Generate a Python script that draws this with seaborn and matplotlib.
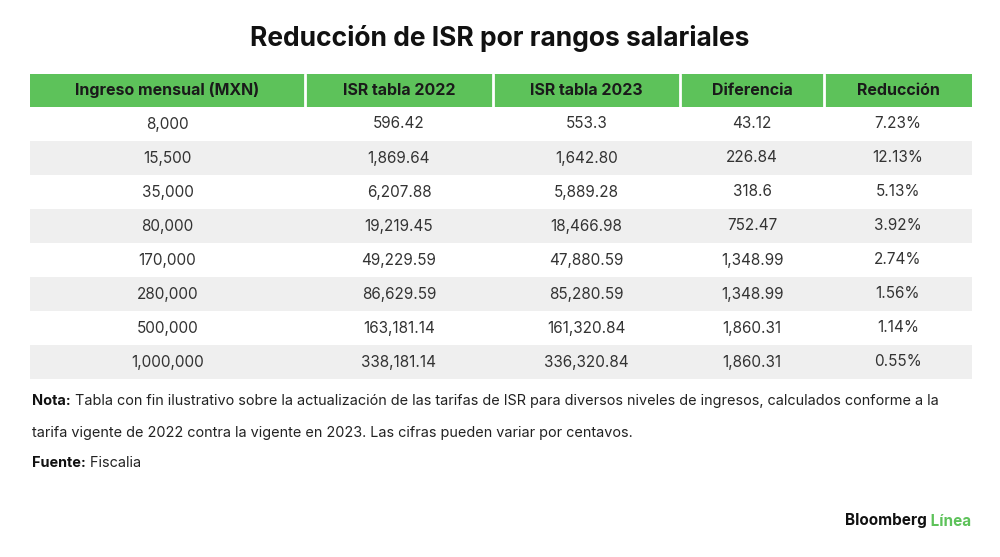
import matplotlib
matplotlib.use("Agg")
import matplotlib.pyplot as plt
import seaborn as sns
from matplotlib.patches import Rectangle

sns.set_theme(style="white")
plt.rcParams['font.family'] = ['Inter', 'DejaVu Sans']

columnas = ["Ingreso mensual (MXN)", "ISR tabla 2022", "ISR tabla 2023", "Diferencia", "Reducción"]
ingreso = ["8,000", "15,500", "35,000", "80,000", "170,000", "280,000", "500,000", "1,000,000"]
isr_2022 = ["596.42", "1,869.64", "6,207.88", "19,219.45", "49,229.59", "86,629.59", "163,181.14", "338,181.14"]
isr_2023 = ["553.3", "1,642.80", "5,889.28", "18,466.98", "47,880.59", "85,280.59", "161,320.84", "336,320.84"]
diferencia = ["43.12", "226.84", "318.6", "752.47", "1,348.99", "1,348.99", "1,860.31", "1,860.31"]
reduccion = ["7.23%", "12.13%", "5.13%", "3.92%", "2.74%", "1.56%", "1.14%", "0.55%"]

bordes = [30, 305, 493, 680, 824, 972]
verde = "#5dc25a"
gris = "#efefef"

fig = plt.figure(figsize=(10, 5.57), dpi=100)
ax = fig.add_axes([0, 0, 1, 1])
ax.set_xlim(0, 1000)
ax.set_ylim(557, 0)
ax.axis("off")

ax.text(500, 38, "Reducción de ISR por rangos salariales", ha="center", va="center",
        fontsize=19, fontweight="bold", color="#111111")

top, h_head, h_row = 74, 33, 34
for j, col in enumerate(columnas):
    x0, x1 = bordes[j], bordes[j + 1]
    ax.add_patch(Rectangle((x0, top), x1 - x0, h_head, color=verde, lw=0))
    ax.text((x0 + x1) / 2, top + h_head / 2, col, ha="center", va="center",
            fontsize=11.5, fontweight="bold", color="#1a1a1a")
    if j > 0:
        ax.plot([x0, x0], [top, top + h_head], color="white", lw=2)

filas = list(zip(ingreso, isr_2022, isr_2023, diferencia, reduccion))
y = top + h_head
for i, fila in enumerate(filas):
    if i % 2 == 1:
        ax.add_patch(Rectangle((bordes[0], y), bordes[-1] - bordes[0], h_row, color=gris, lw=0))
    for j, val in enumerate(fila):
        ax.text((bordes[j] + bordes[j + 1]) / 2, y + h_row / 2, val, ha="center", va="center",
                fontsize=11, color="#333333")
    y += h_row

fs = 10.4
nota1 = "Tabla con fin ilustrativo sobre la actualización de las tarifas de ISR para diversos niveles de ingresos, calculados conforme a la"
nota2 = "tarifa vigente de 2022 contra la vigente en 2023. Las cifras pueden variar por centavos."
t = ax.text(32, 401, "Nota:", ha="left", va="center", fontsize=fs, fontweight="bold", color="#111111")
ax.annotate(" " + nota1, xycoords=t, xy=(1, 0.5), va="center", fontsize=fs, color="#222222")
ax.text(32, 433, nota2, ha="left", va="center", fontsize=fs, color="#222222")
t2 = ax.text(32, 463, "Fuente:", ha="left", va="center", fontsize=fs, fontweight="bold", color="#111111")
ax.annotate(" Fiscalia", xycoords=t2, xy=(1, 0.5), va="center", fontsize=fs, color="#222222")

t3 = ax.text(845, 521, "Bloomberg", ha="left", va="center", fontsize=11, fontweight="bold", color="#111111")
ax.annotate(" Línea", xycoords=t3, xy=(1, 0.5), va="center", fontsize=11, fontweight="bold",
            color=verde)

fig.savefig("out.png", dpi=100, facecolor="white")
